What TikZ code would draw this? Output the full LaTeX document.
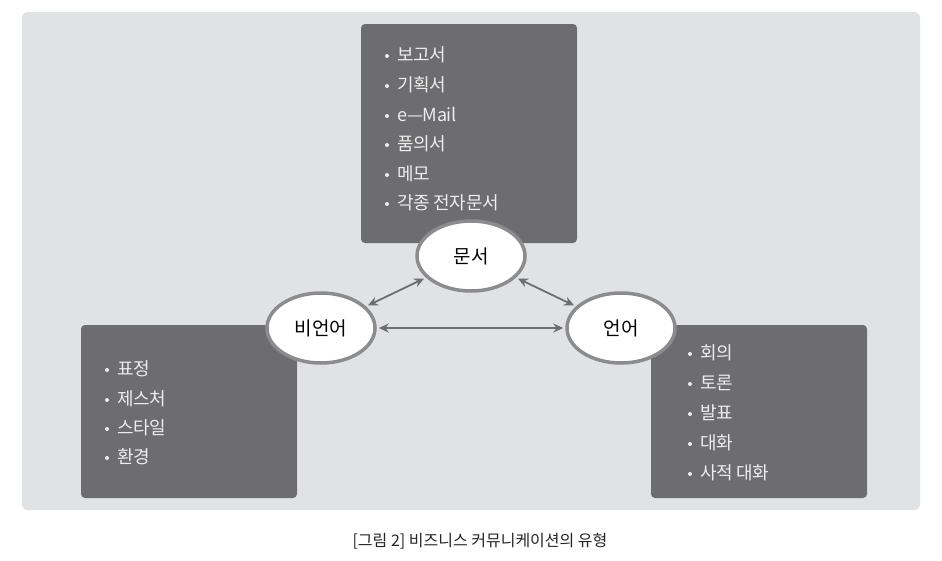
\documentclass[tikz,border=0pt]{standalone}
\usepackage{fontspec}
\setmainfont{Noto Sans CJK KR}
\usetikzlibrary{arrows.meta,shapes.geometric}
\definecolor{panel}{HTML}{E1E2E4}
\definecolor{boxc}{HTML}{6D6D6F}
\definecolor{rimc}{HTML}{8C8C8E}
\definecolor{arrc}{HTML}{6E6E70}
\definecolor{itemc}{HTML}{EDEDED}
\tikzset{
  darkbox/.style={fill=boxc, rounded corners=4pt, draw=none},
  bubble/.style={ellipse, draw=rimc, line width=3.5pt, fill=white, minimum width=108pt, minimum height=70pt, inner sep=0pt, font=\fontsize{19}{21}\selectfont},
  item/.style={anchor=base west, text=itemc, inner sep=0pt, font=\fontsize{18}{20}\selectfont\addfontfeatures{LetterSpace=-2}},
  link/.style={draw=arrc, line width=1.8pt, {Stealth[length=10pt,width=9pt]}-{Stealth[length=10pt,width=9pt]}, shorten <=2pt, shorten >=2pt},
}
\begin{document}
\begin{tikzpicture}[x=1pt,y=-1pt]
\useasboundingbox (0,0) rectangle (942,560);
\fill[white] (0,0) rectangle (942,560);
\fill[panel, rounded corners=6pt] (22,12) rectangle (920,510);
% boxes
\fill[darkbox] (361,24) rectangle (577,243);
\fill[darkbox] (81,325) rectangle (297,498);
\fill[darkbox] (651,325) rectangle (867,498);
% top items
\foreach \t/\y in {보고서/55, 기획서/85, e---Mail/115, 품의서/144, 메모/174, 각종 전자문서/203}{
  \fill[itemc] (387,\y+1) circle (2pt);
  \node[item] at (397,\y+6.5) {\t};
}
% left items
\foreach \t/\y in {표정/369, 제스처/399, 스타일/428, 환경/457}{
  \fill[itemc] (107,\y+1) circle (2pt);
  \node[item] at (117,\y+6.5) {\t};
}
% right items
\foreach \t/\y in {회의/353, 토론/383, 발표/413, 대화/443, 사적 대화/473}{
  \fill[itemc] (690,\y+1) circle (2pt);
  \node[item] at (700,\y+6.5) {\t};
}
% bubbles
\node[bubble] (doc) at (471,256) {문서};
\node[bubble] (nonv) at (321,328) {비언어};
\node[bubble] (verb) at (621,328) {언어};
% links
\draw[link] (doc) -- (nonv);
\draw[link] (doc) -- (verb);
\draw[link] (nonv) -- (verb);
% caption
\node[font=\fontsize{16}{18}\selectfont, text=black!85] (cap) at (480,541) {[그림 2] 비즈니스 커뮤니케이션의 유형};
\end{tikzpicture}
\end{document}
